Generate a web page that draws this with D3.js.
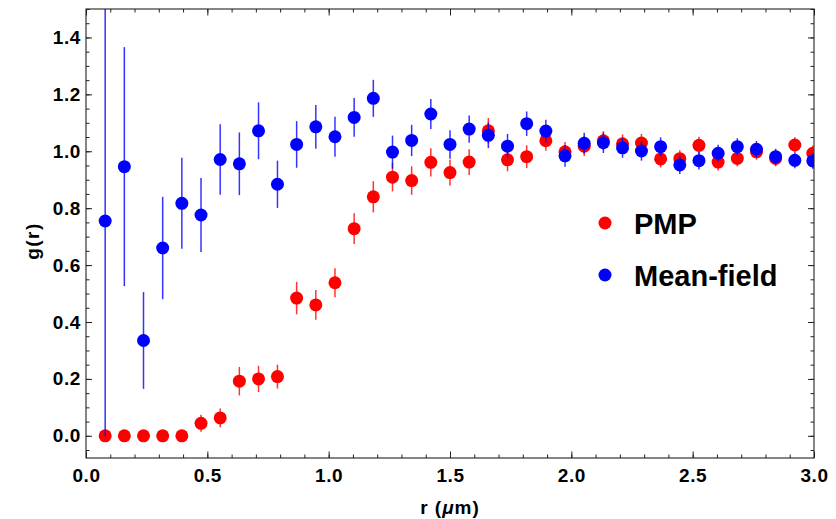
<!DOCTYPE html>
<html>
<head>
<meta charset="utf-8">
<script src="https://cdn.jsdelivr.net/npm/d3@7"></script>
<style>
  body { margin: 0; background: #fff; }
  text { font-family: "Liberation Sans", Arial, sans-serif; font-weight: bold; }
</style>
</head>
<body>
<script>
// bin centres (um)
var r = [0.079, 0.158, 0.237, 0.316, 0.395, 0.474, 0.553, 0.632, 0.711, 0.789,
         0.868, 0.947, 1.026, 1.105, 1.184, 1.263, 1.342, 1.421, 1.500, 1.579,
         1.658, 1.737, 1.816, 1.895, 1.974, 2.053, 2.132, 2.211, 2.289, 2.368,
         2.447, 2.526, 2.605, 2.684, 2.763, 2.842, 2.921, 2.995];

var pmp = [0, 0, 0, 0, 0, 0.044, 0.063, 0.192, 0.200, 0.208,
           0.484, 0.460, 0.538, 0.728, 0.840, 0.909, 0.897, 0.961, 0.925, 0.962,
           1.072, 0.970, 0.981, 1.037, 0.998, 1.018, 1.037, 1.026, 1.029, 0.973,
           0.974, 1.021, 0.962, 0.975, 0.998, 0.975, 1.022, 0.993];
var pmpErr = [0, 0, 0, 0, 0, 0.030, 0.033, 0.050, 0.046, 0.042,
              0.057, 0.052, 0.051, 0.054, 0.055, 0.050, 0.050, 0.050, 0.045, 0.045,
              0.045, 0.040, 0.040, 0.035, 0.035, 0.035, 0.033, 0.033, 0.032, 0.030,
              0.030, 0.030, 0.030, 0.028, 0.028, 0.028, 0.027, 0.027];

var mf = [0.755, 0.946, 0.335, 0.660, 0.817, 0.776, 0.971, 0.956, 1.072, 0.884,
          1.024, 1.086, 1.051, 1.119, 1.186, 0.997, 1.038, 1.131, 1.024, 1.078,
          1.056, 1.018, 1.097, 1.071, 0.984, 1.028, 1.030, 1.012, 1.001, 1.016,
          0.952, 0.967, 0.993, 1.016, 1.007, 0.981, 0.968, 0.966];
var mfErr = [0.755, 0.420, 0.170, 0.180, 0.160, 0.130, 0.124, 0.110, 0.100, 0.083,
             0.082, 0.077, 0.070, 0.068, 0.065, 0.058, 0.055, 0.053, 0.050, 0.048,
             0.045, 0.043, 0.043, 0.040, 0.038, 0.037, 0.036, 0.035, 0.034, 0.033,
             0.032, 0.031, 0.030, 0.030, 0.029, 0.028, 0.028, 0.027];

var xTicks = [0, 0.5, 1.0, 1.5, 2.0, 2.5, 3.0];
var yTicks = [0, 0.2, 0.4, 0.6, 0.8, 1.0, 1.2, 1.4];

var series = [
  {name: "PMP", color: "#ff0000", y: pmp, err: pmpErr},
  {name: "Mean-field", color: "#0000ff", y: mf, err: mfErr}
];

var W = 836, H = 519;
var margin = {top: 9, right: 22, bottom: 61, left: 86},
    width = W - margin.left - margin.right,
    height = H - margin.top - margin.bottom;

var x = d3.scaleLinear().domain([0, 3]).range([0, width]);
var y = d3.scaleLinear().domain([-0.078, 1.5]).range([height, 0]);

var svg = d3.select("body").append("svg")
    .attr("width", W)
    .attr("height", H);

var g = svg.append("g")
    .attr("transform", "translate(" + margin.left + "," + margin.top + ")");

g.append("clipPath").attr("id", "clip")
  .append("rect").attr("width", width).attr("height", height);

var minorX = d3.range(0, 3.0001, 0.1),
    minorY = d3.range(-0.05, 1.5001, 0.05);

function styleAxis(sel) {
  sel.select(".domain").remove();
  sel.selectAll("line").attr("stroke", "#222").attr("stroke-width", 1);
  sel.selectAll("text").attr("font-size", 19).attr("fill", "#000")
    .style("letter-spacing", "0.6px");
}

// bottom
g.append("g").attr("transform", "translate(0," + height + ")")
  .call(d3.axisBottom(x).tickValues(minorX).tickSize(-3.5).tickFormat(""))
  .call(styleAxis);
g.append("g").attr("transform", "translate(0," + height + ")")
  .call(d3.axisBottom(x).tickValues(xTicks).tickSize(-6.5).tickPadding(11)
    .tickFormat(d3.format(".1f")))
  .call(styleAxis);
// top
g.append("g")
  .call(d3.axisTop(x).tickValues(minorX).tickSize(-3.5).tickFormat(""))
  .call(styleAxis);
g.append("g")
  .call(d3.axisTop(x).tickValues(xTicks).tickSize(-6.5).tickFormat(""))
  .call(styleAxis);
// left
g.append("g")
  .call(d3.axisLeft(y).tickValues(minorY).tickSize(-3.5).tickFormat(""))
  .call(styleAxis);
g.append("g")
  .call(d3.axisLeft(y).tickValues(yTicks).tickSize(-6).tickPadding(5)
    .tickFormat(d3.format(".1f")))
  .call(styleAxis);
// right
g.append("g").attr("transform", "translate(" + width + ",0)")
  .call(d3.axisRight(y).tickValues(minorY).tickSize(-3.5).tickFormat(""))
  .call(styleAxis);
g.append("g").attr("transform", "translate(" + width + ",0)")
  .call(d3.axisRight(y).tickValues(yTicks).tickSize(-6).tickFormat(""))
  .call(styleAxis);

// frame
g.append("rect")
  .attr("width", width).attr("height", height)
  .attr("fill", "none").attr("stroke", "#222").attr("stroke-width", 1.1);

var plot = g.append("g").attr("clip-path", "url(#clip)");

series.forEach(function(s) {
  var pts = r.map(function(v, i) { return {x: v, y: s.y[i], e: s.err[i]}; });

  plot.append("g").selectAll("line")
    .data(pts.filter(function(d) { return d.e > 0; }))
    .enter().append("line")
    .attr("x1", function(d) { return x(d.x); })
    .attr("x2", function(d) { return x(d.x); })
    .attr("y1", function(d) { return y(d.y - d.e); })
    .attr("y2", function(d) { return y(d.y + d.e); })
    .attr("stroke", s.color)
    .attr("stroke-opacity", 0.8)
    .attr("stroke-width", 1.5);

  plot.append("g").selectAll("circle")
    .data(pts)
    .enter().append("circle")
    .attr("cx", function(d) { return x(d.x); })
    .attr("cy", function(d) { return y(d.y); })
    .attr("r", 6.5)
    .attr("fill", s.color);
});

// legend
var legend = svg.append("g").attr("transform", "translate(605,223)");
series.forEach(function(s, i) {
  var row = legend.append("g").attr("transform", "translate(0," + (i * 52) + ")");
  row.append("circle").attr("r", 6.5).attr("fill", s.color);
  row.append("text")
    .attr("x", 29).attr("y", 11)
    .attr("font-size", 29)
    .text(s.name);
});

// axis titles
svg.append("text")
  .attr("x", margin.left + width / 2).attr("y", 514)
  .attr("text-anchor", "middle")
  .attr("font-size", 19)
  .style("letter-spacing", "1px")
  .html('r (<tspan font-style="italic">\u03bc</tspan>m)');

svg.append("text")
  .attr("transform", "translate(39,241) rotate(-90)")
  .attr("text-anchor", "middle")
  .attr("font-size", 19)
  .style("letter-spacing", "1.5px")
  .text("g(r)");
</script>
</body>
</html>
